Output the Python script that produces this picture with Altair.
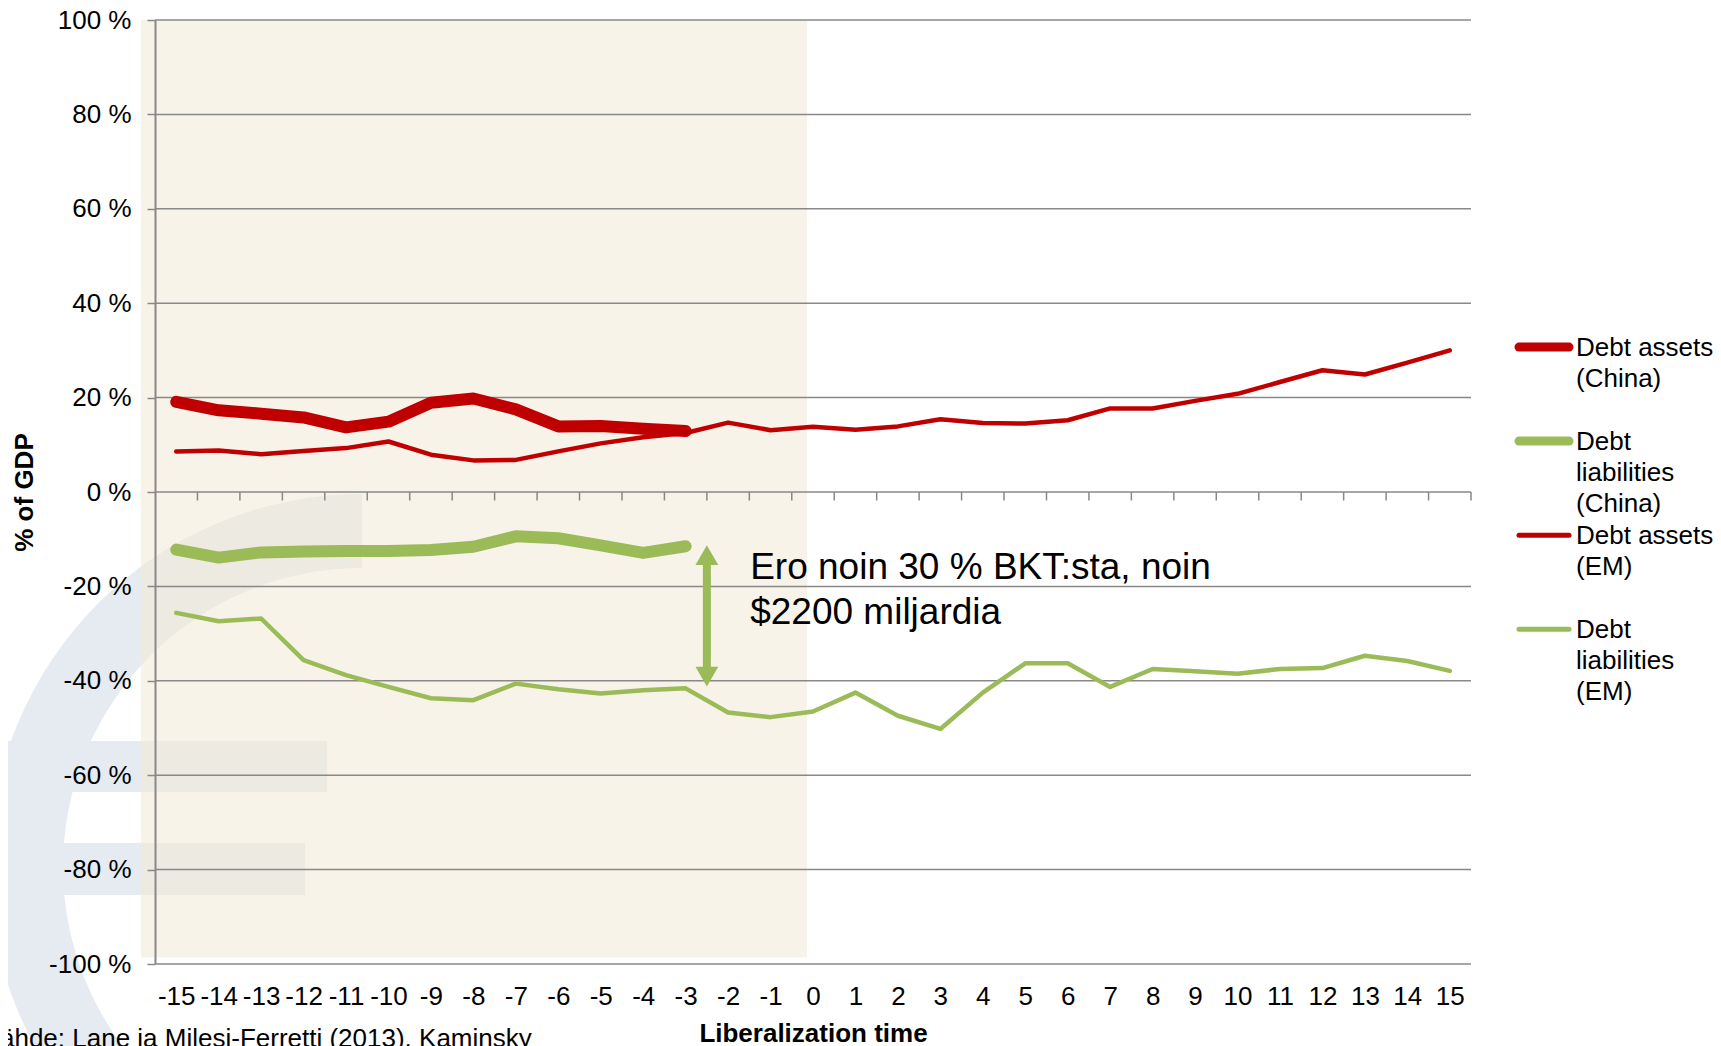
import math
import altair as alt
import pandas as pd

# ---------------- data ----------------
t_all = list(range(-15, 16))
t_china = list(range(-15, -2))

series = ["Debt assets (China)", "Debt liabilities (China)", "Debt assets (EM)", "Debt liabilities (EM)"]
legend_labels = ["Debt assets\n(China)", "Debt\nliabilities\n(China)", "Debt assets\n(EM)", "Debt\nliabilities\n(EM)"]

debt_assets_china = [19.1, 17.3, 16.6, 15.8, 13.7, 14.9, 18.9, 19.8, 17.5, 13.9, 14.0, 13.4, 12.9]
debt_liab_china = [-12.2, -13.9, -12.8, -12.6, -12.5, -12.5, -12.3, -11.6, -9.4, -9.8, -11.3, -12.9, -11.5]
debt_assets_em = [8.6, 8.8, 8.0, 8.7, 9.3, 10.7, 7.9, 6.7, 6.8, 8.6, 10.3, 11.6, 12.5,
                  14.7, 13.1, 13.8, 13.2, 13.9, 15.4, 14.6, 14.5, 15.2, 17.7, 17.7, 19.3,
                  20.8, 23.3, 25.8, 24.9, 27.4, 30.0]
debt_liab_em = [-25.6, -27.4, -26.8, -35.6, -38.8, -41.3, -43.7, -44.1, -40.6, -41.8, -42.7, -42.0, -41.6,
                -46.7, -47.7, -46.5, -42.5, -47.4, -50.2, -42.5, -36.3, -36.3, -41.3, -37.5, -38.0,
                -38.5, -37.5, -37.3, -34.7, -35.8, -37.9]

y_ticks = [-100, -80, -60, -40, -20, 0, 20, 40, 60, 80, 100]

annotation_lines = ["Ero noin 30 % BKT:sta, noin", "$2200 miljardia"]
source_text = "Lähde: Lane ja Milesi-Ferretti (2013), Kaminsky"

# ---------------- styling ----------------
FONT = "Liberation Sans, Arial, Helvetica, sans-serif"
RED = "#C00000"
GREEN = "#9BBB59"
GRID = "#888888"
W, H = 1316, 944

rows = []
for name, xs, ys in [
    (series[0], t_china, debt_assets_china),
    (series[1], t_china, debt_liab_china),
    (series[2], t_all, debt_assets_em),
    (series[3], t_all, debt_liab_em),
]:
    for x, y in zip(xs, ys):
        rows.append({"series": name, "t": x, "value": y})
df = pd.DataFrame(rows)

grid_df = pd.DataFrame({"v": y_ticks})
tick_df = pd.DataFrame({"p": [t + 0.5 for t in t_all]})
leg_df = pd.DataFrame({"series": series, "label": legend_labels, "row": list(range(len(series)))})

one = alt.Data(values=[{"a": 1}])

xscale = alt.Scale(domain=[-15.5, 15.5], nice=False, zero=False)
yscale = alt.Scale(domain=[-100, 100], nice=False, zero=False)
color_scale = alt.Scale(domain=series, range=[RED, GREEN, RED, GREEN])
width_scale = alt.Scale(type="ordinal", domain=series, range=[12, 12, 4.5, 4.5])

# decorative faint logo (euro sign) in the background
LOGO = "#E6EBF1"
logo_arc = alt.Chart(one).mark_arc(
    radius=373, radius2=299, theta=math.pi, theta2=2 * math.pi, color=LOGO
).encode(x=alt.value(207), y=alt.value(847))
logo_bar1 = alt.Chart(one).mark_rect(color=LOGO).encode(
    x=alt.value(-160), x2=alt.value(172), y=alt.value(721), y2=alt.value(772))
logo_bar2 = alt.Chart(one).mark_rect(color=LOGO).encode(
    x=alt.value(-160), x2=alt.value(150), y=alt.value(823), y2=alt.value(875))

shade = alt.Chart(one).mark_rect(color="#F3EAD6", opacity=0.55).encode(
    x=alt.X(datum=-15.83, type="quantitative", scale=xscale),
    x2=alt.datum(-0.14),
    y=alt.Y(datum=100, type="quantitative", scale=yscale),
    y2=alt.datum(-98.6),
)

grid = alt.Chart(grid_df).mark_rule(color=GRID, strokeWidth=1.5).encode(
    y=alt.Y("v:Q", scale=yscale),
    x=alt.value(0), x2=alt.value(W),
)

xticks = alt.Chart(tick_df).mark_rule(color=GRID, strokeWidth=1.5).encode(
    x=alt.X("p:Q", scale=xscale),
    y=alt.datum(0), y2=alt.datum(-1.8),
)

lines = alt.Chart(df).mark_line(strokeCap="round", strokeJoin="round").encode(
    x=alt.X("t:Q", scale=xscale, axis=alt.Axis(
        values=t_all, labelExpr="datum.value + ''", ticks=False, domain=False, grid=False,
        labelPadding=19, labelFont=FONT, labelFontSize=26, labelColor="black",
        labelOverlap=False, labelFlush=False,
        title="Liberalization time", titleFont=FONT, titleFontSize=26, titleFontWeight="bold",
        titleColor="black", titleX=W / 2, titleY=69, titleBaseline="middle", titleAlign="center")),
    y=alt.Y("value:Q", scale=yscale, axis=alt.Axis(
        values=y_ticks, labelExpr="datum.value + ' %'", grid=False,
        domainColor=GRID, domainWidth=2, tickColor=GRID, tickWidth=1.5, tickSize=8,
        labelPadding=16, labelFont=FONT, labelFontSize=26, labelColor="black",
        labelFlush=False, labelOverlap=False,
        title="% of GDP", titleFont=FONT, titleFontSize=26, titleFontWeight="bold", titleColor="black",
        titleAngle=270, titleX=-131, titleY=H / 2, titleAlign="center", titleBaseline="middle",
        zindex=1)),
    color=alt.Color("series:N", scale=color_scale, legend=None),
    strokeWidth=alt.StrokeWidth("series:N", scale=width_scale, legend=None),
)

shaft = alt.Chart(one).mark_rule(color=GREEN, strokeWidth=8).encode(
    x=alt.datum(-2.5), y=alt.datum(-13.8), y2=alt.datum(-39.0))
head_up = alt.Chart(one).mark_point(shape="triangle-up", filled=True, size=520, color=GREEN, opacity=1).encode(
    x=alt.datum(-2.5), y=alt.datum(-13.4))
head_down = alt.Chart(one).mark_point(shape="triangle-down", filled=True, size=520, color=GREEN, opacity=1).encode(
    x=alt.datum(-2.5), y=alt.datum(-39.1))

annot = alt.Chart(one).mark_text(
    text="\n".join(annotation_lines), lineBreak="\n", align="left", baseline="top",
    font=FONT, fontSize=37, lineHeight=45, color="black",
).encode(x=alt.datum(-1.48), y=alt.datum(-12.3))

source = alt.Chart(one).mark_text(
    text=source_text, align="left", baseline="top", font=FONT, fontSize=26, color="black",
).encode(x=alt.value(-169.5), y=alt.value(1006))

# legend drawn by hand: one row per series, rows spaced evenly down the right margin
leg_base = alt.Chart(leg_df).transform_calculate(ly="30.7 - datum.row * 19.92")
leg_rules = leg_base.mark_rule(strokeCap="round").encode(
    x=alt.value(1364), x2=alt.value(1414),
    y=alt.Y("ly:Q", scale=yscale),
    color=alt.Color("series:N", scale=color_scale, legend=None),
    strokeWidth=alt.condition("indexof(datum.series, 'China') >= 0", alt.value(9), alt.value(5)),
)
leg_text = leg_base.mark_text(
    align="left", baseline="top", dy=-12, lineBreak="\n", font=FONT, fontSize=26, lineHeight=31, color="black",
).encode(x=alt.value(1421), y=alt.Y("ly:Q", scale=yscale), text="label:N")

chart = alt.layer(
    logo_arc, logo_bar1, logo_bar2, shade, grid, xticks, lines,
    shaft, head_up, head_down, annot, source, leg_rules, leg_text,
).properties(
    width=W, height=H,
    padding={"left": 147, "top": 12, "right": 242, "bottom": 82},
    autosize=alt.AutoSizeParams(type="none"),
    background="white",
).configure_view(stroke=None)

chart.save("out.html", embed_options={"renderer": "svg", "actions": False})
